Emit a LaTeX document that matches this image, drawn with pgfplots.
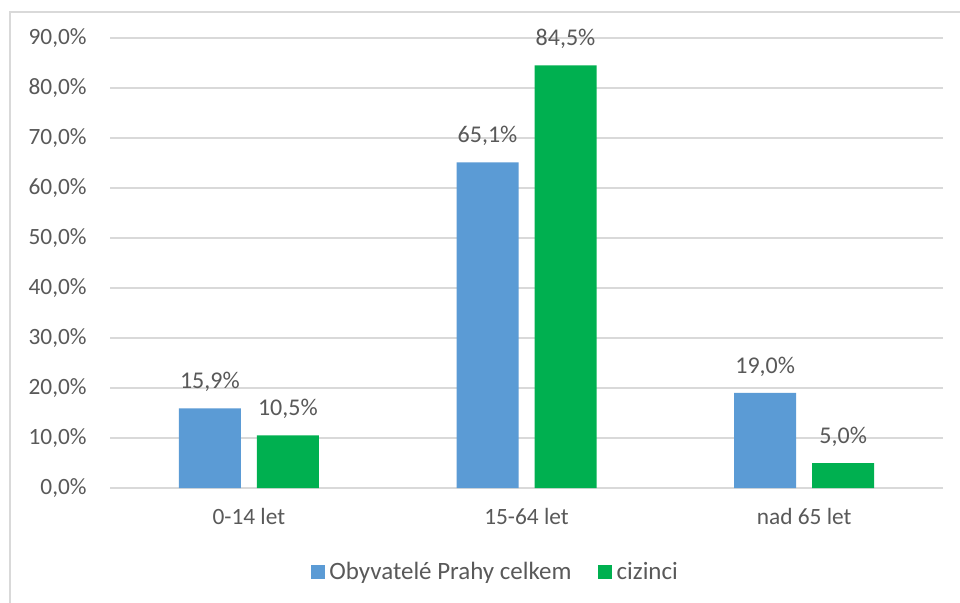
\documentclass[border=0pt]{standalone}
\usepackage{fontspec}
\setmainfont{Carlito}
\usepackage{pgfplots}
\pgfplotsset{compat=1.18}
\definecolor{cblue}{HTML}{5B9BD5}
\definecolor{cgreen}{HTML}{00B050}
\definecolor{ctext}{HTML}{595959}
\definecolor{cgrid}{HTML}{D9D9D9}
\begin{document}
\begin{tikzpicture}[x=1pt,y=1pt]
\useasboundingbox (0,0) rectangle (720,452.25);
\fill[white] (0,0) rectangle (720,452.25);
\draw[cgrid, line width=1pt] (7.5,0) -- (7.5,443.25) -- (720,443.25);
\begin{axis}[
  at={(82.5pt,86.25pt)}, anchor=south west,
  scale only axis, width=624.75pt, height=337.5pt,
  ymin=0, ymax=90, ytick={0,10,...,90},
  xmin=-0.5, xmax=2.5, xtick=data,
  xticklabels={0-14 let,15-64 let,nad 65 let},
  axis line style={draw=none},
  major tick length=0pt,
  ymajorgrids, grid style={cgrid, line width=1pt},
  axis x line*=bottom,
  x axis line style={cgrid, line width=1pt},
  ticklabel style={font=\fontsize{17.5}{20}\selectfont, text=ctext},
  /pgf/number format/assume math mode=true,
  yticklabel={\pgfmathprintnumber[fixed,fixed zerofill,precision=1,use comma]{\tick}\%},
  yticklabel style={xshift=-14pt},
  xticklabel style={yshift=-12pt},
  ybar=12pt, bar width=46.5pt,
  nodes near coords={\pgfmathprintnumber[fixed,fixed zerofill,precision=1,use comma,assume math mode=true]{\pgfplotspointmeta}\%},
  nodes near coords style={font=\fontsize{18}{21}\selectfont, text=ctext, yshift=9pt},
  legend columns=2,
  legend style={at={(0.463,0)}, anchor=center, yshift=-63pt, draw=none,
    font=\fontsize{18.7}{22}\selectfont, text=ctext,
    /tikz/every odd column/.append style={column sep=1.5pt},
    /tikz/every even column/.append style={column sep=18pt}},
  legend image code/.code={\fill[#1] (0pt,-5.25pt) rectangle (10.5pt,5.25pt);},
]
\addplot[fill=cblue, draw=none] coordinates {(0,15.9) (1,65.1) (2,19.0)};
\addplot[fill=cgreen, draw=none] coordinates {(0,10.5) (1,84.5) (2,5.0)};
\legend{Obyvatelé Prahy celkem, cizinci}
\end{axis}
\end{tikzpicture}
\end{document}
